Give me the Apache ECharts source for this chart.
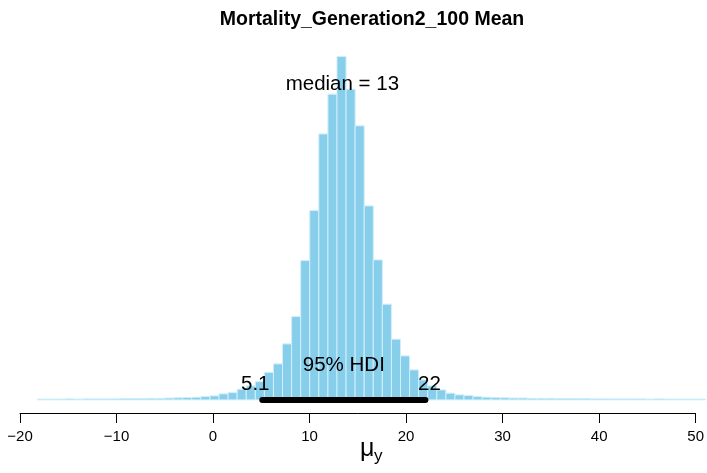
<!DOCTYPE html>
<html>
<head>
<meta charset="utf-8">
<script src="https://cdn.jsdelivr.net/npm/echarts@6/dist/echarts.min.js"></script>
<style>
  html, body { margin: 0; padding: 0; background: #fff; }
  #chart { width: 707px; height: 473px; }
</style>
</head>
<body>
<div id="chart"></div>
<script>
// Posterior sample histogram (density scale), bins start at the sample minimum
const titleText = 'Mortality_Generation2_100 Mean';
const binStart = -18.18;
const binWidth = 0.94;
const binMax = 51.0;
const density = [
  // left tail
  0.0003, 0.0003, 0.0003, 0.0004, 0.0003, 0.0004, 0.0004, 0.0004, 0.0004,
  0.0005, 0.0005, 0.0005, 0.0006, 0.0006, 0.0007, 0.0008, 0.0009, 0.0010,
  // body
  0.00126, 0.00153, 0.00229, 0.00278, 0.00408, 0.00534, 0.00698, 0.01049,
  0.01373, 0.02136, 0.03178, 0.05314, 0.07222, 0.10147, 0.11662, 0.13096,
  0.11853, 0.10453, 0.07401, 0.05341, 0.03651, 0.02316, 0.01678, 0.01144,
  0.00763, 0.00534, 0.00381, 0.00256, 0.00191, 0.00164, 0.00126, 0.00103,
  0.00088,
  // right tail
  0.0008, 0.0007, 0.0007, 0.0006, 0.0006, 0.0006, 0.0005, 0.0005, 0.0005,
  0.0005, 0.0004, 0.0004, 0.0004, 0.0004, 0.0004, 0.0004, 0.0003, 0.0004,
  0.0003, 0.0003, 0.0003, 0.0003, 0.0003
];
const xTickValues = [-20, -10, 0, 10, 20, 30, 40, 50];

// Summary statistics
const medianValue = 13.4;
const hdiLow = 5.1;
const hdiHigh = 22;
const hdiMass = 95;

// Vertical placement of the annotations, in density units
const medianLabelY = 0.1203;
const hdiLabelY = 0.0130;
const hdiEndLabelY = 0.0058;

const FONT = '"Liberation Sans", Arial, Helvetica, sans-serif';

// Histogram bins: [left edge, right edge, density]
const bins = density.map((d, k) => {
  const x0 = binStart + k * binWidth;
  const x1 = Math.min(x0 + binWidth, binMax);
  return [x0, x1, d];
});

function signif2(v) {
  return Number(v.toPrecision(2)).toString();
}

// Text annotations: [x, y], text, horizontal nudge in px
const notes = [
  { value: [medianValue, medianLabelY], text: 'median = ' + signif2(medianValue), dx: 0 },
  { value: [(hdiLow + hdiHigh) / 2, hdiLabelY], text: hdiMass + '% HDI', dx: 0 },
  { value: [hdiLow, hdiEndLabelY], text: signif2(hdiLow), dx: -7 },
  { value: [hdiHigh, hdiEndLabelY], text: signif2(hdiHigh), dx: 4 }
];

const chart = echarts.init(document.getElementById('chart'), null, { renderer: 'canvas' });

chart.setOption({
  backgroundColor: '#ffffff',
  animation: false,
  title: {
    text: titleText,
    left: 372,
    top: 10,
    padding: 0,
    textAlign: 'center',
    textStyle: { fontFamily: FONT, fontWeight: 'bold', fontSize: 19.5, color: '#000' }
  },
  grid: { left: 20, right: 9.3, top: 46, bottom: 60, containLabel: false },
  xAxis: {
    type: 'value',
    min: -20,
    max: 50,
    interval: 10,
    splitLine: { show: false },
    axisLine: { show: true, onZero: false, lineStyle: { color: '#000', width: 1 } },
    axisTick: { show: true, length: 10, lineStyle: { color: '#000', width: 1 } },
    axisLabel: {
      margin: 16,
      color: '#000',
      fontFamily: FONT,
      fontSize: 15,
      customValues: xTickValues,
      formatter: v => String(v).replace('-', '\u2212')
    }
  },
  yAxis: {
    type: 'value',
    min: -0.005,
    max: 0.135,
    show: false
  },
  graphic: [
    { type: 'text', left: 360, top: 437, style: { text: '\u03bc', font: '25px ' + FONT, fill: '#000' } },
    { type: 'text', left: 374, top: 448, style: { text: 'y', font: '17px ' + FONT, fill: '#000' } }
  ],
  series: [
    {
      name: 'histogram',
      type: 'custom',
      clip: false,
      data: bins,
      encode: { x: [0, 1], y: 2 },
      renderItem: function (params, api) {
        const p0 = api.coord([api.value(0), 0]);
        const p1 = api.coord([api.value(1), api.value(2)]);
        return {
          type: 'rect',
          shape: { x: p0[0], y: p1[1], width: p1[0] - p0[0], height: p0[1] - p1[1] },
          style: { fill: '#87CEEB', stroke: '#d0effb', lineWidth: 1 }
        };
      }
    },
    {
      name: 'HDI',
      type: 'line',
      clip: false,
      data: [[hdiLow, 0], [hdiHigh, 0]],
      symbol: 'none',
      lineStyle: { color: '#000', width: 6, cap: 'round' },
      z: 5
    },
    {
      name: 'notes',
      type: 'custom',
      clip: false,
      data: notes.map(n => n.value),
      z: 6,
      renderItem: function (params, api) {
        const n = notes[params.dataIndex];
        const p = api.coord([api.value(0), api.value(1)]);
        return {
          type: 'text',
          x: p[0] + n.dx,
          y: p[1],
          style: {
            text: n.text,
            fontFamily: FONT,
            fontSize: 20.5,
            fill: '#000',
            align: 'center',
            verticalAlign: 'middle'
          }
        };
      }
    }
  ]
});
</script>
</body>
</html>
